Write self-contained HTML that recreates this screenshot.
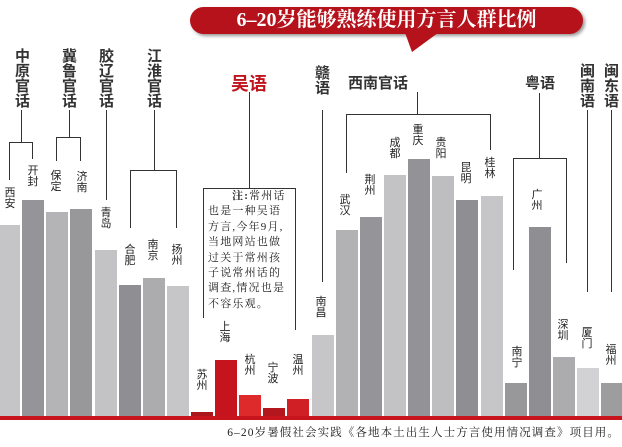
<!DOCTYPE html>
<html><head><meta charset="utf-8"><style>
body{margin:0;width:622px;height:447px;background:#fff;position:relative;overflow:hidden;font-family:"Liberation Sans","Noto Sans CJK SC",sans-serif}
.b{position:absolute;bottom:30px}
.v{position:absolute;width:14px;text-align:center;line-height:1.02;font-size:11px;color:#222;word-break:break-all}
.g{position:absolute;width:17px;text-align:center;line-height:1.0;font-size:15px;font-weight:bold;color:#333;word-break:break-all}
.l{position:absolute;background:#333}
</style></head><body>
<!-- title -->
<div style="position:absolute;left:190px;top:7px;width:393px;height:27px;border-radius:14px;background:#b5121b;box-shadow:2px 2px 3px #999"></div>
<div style="position:absolute;left:404px;top:30px;width:0;height:0;border-left:8px solid transparent;border-right:30px solid transparent;border-top:22px solid #b5121b"></div>
<div style="position:absolute;left:190px;top:7px;width:393px;height:27px;line-height:27px;text-align:center;color:#fff;font-size:20px;font-weight:bold;font-family:'Liberation Serif','Noto Serif CJK SC',serif">6–20岁能够熟练使用方言人群比例</div>

<!-- bars -->
<div class="b" style="left:0;width:20px;height:192px;background:#c5c4c7"></div>
<div class="b" style="left:22px;width:22px;height:217px;background:#959498"></div>
<div class="b" style="left:46px;width:22px;height:205px;background:#b4b3b6"></div>
<div class="b" style="left:70px;width:22px;height:208px;background:#98979a"></div>
<div class="b" style="left:95px;width:22px;height:167px;background:#c3c2c5"></div>
<div class="b" style="left:119px;width:22px;height:132px;background:#8f8e92"></div>
<div class="b" style="left:143px;width:22px;height:139px;background:#acabae"></div>
<div class="b" style="left:167px;width:22px;height:131px;background:#c6c5c8"></div>
<div class="b" style="left:191px;width:22px;height:5px;background:#aa161c"></div>
<div class="b" style="left:215px;width:22px;height:57px;background:#c5141d"></div>
<div class="b" style="left:239px;width:22px;height:22px;background:#df2a2b"></div>
<div class="b" style="left:263px;width:22px;height:9px;background:#b3161c"></div>
<div class="b" style="left:287px;width:22px;height:18px;background:#d01f25"></div>
<div class="b" style="left:312px;width:22px;height:82px;background:#c6c5c8"></div>
<div class="b" style="left:336px;width:22px;height:187px;background:#b2b1b4"></div>
<div class="b" style="left:360px;width:22px;height:200px;background:#959498"></div>
<div class="b" style="left:384px;width:22px;height:242px;background:#c3c2c5"></div>
<div class="b" style="left:408px;width:22px;height:258px;background:#939296"></div>
<div class="b" style="left:432px;width:22px;height:241px;background:#bebdc0"></div>
<div class="b" style="left:456px;width:22px;height:217px;background:#8f8e92"></div>
<div class="b" style="left:481px;width:22px;height:221px;background:#c6c5c8"></div>
<div class="b" style="left:505px;width:22px;height:34px;background:#98979a"></div>
<div class="b" style="left:529px;width:22px;height:190px;background:#8f8e92"></div>
<div class="b" style="left:553px;width:22px;height:60px;background:#acabae"></div>
<div class="b" style="left:577px;width:22px;height:49px;background:#d2d1d3"></div>
<div class="b" style="left:601px;width:21px;height:34px;background:#9d9c9f"></div>
<div style="position:absolute;left:0;top:416px;width:622px;height:4px;background:#c8141d"></div>
<div style="position:absolute;right:2px;top:424px;font-size:11.5px;color:#222;font-family:'Liberation Serif','Noto Serif CJK SC',serif;letter-spacing:1.1px">6–20岁暑假社会实践《各地本土出生人士方言使用情况调查》项目用。</div>

<!-- group labels -->
<div class="g" style="left:14px;top:49px">中原官话</div>
<div class="g" style="left:61px;top:49px">冀鲁官话</div>
<div class="g" style="left:98px;top:49px">胶辽官话</div>
<div class="g" style="left:146px;top:49px">江淮官话</div>
<div style="position:absolute;left:231px;top:70px;font-size:18px;font-weight:bold;color:#c0141d">吴语</div>
<div class="g" style="left:314px;top:66px">赣语</div>
<div style="position:absolute;left:348px;top:72px;font-size:15px;font-weight:bold;color:#333">西南官话</div>
<div style="position:absolute;left:525px;top:72px;font-size:15px;font-weight:bold;color:#333">粤语</div>
<div class="g" style="left:579px;top:64px">闽南语</div>
<div class="g" style="left:603px;top:64px">闽东语</div>

<!-- lines -->
<div class="l" style="left:21px;top:110px;width:1px;height:32px"></div>
<div class="l" style="left:9px;top:142px;width:24px;height:1px"></div>
<div class="l" style="left:9px;top:142px;width:1px;height:38px"></div>
<div class="l" style="left:32px;top:142px;width:1px;height:17px"></div>
<div class="l" style="left:69px;top:110px;width:1px;height:27px"></div>
<div class="l" style="left:56px;top:137px;width:25px;height:1px"></div>
<div class="l" style="left:56px;top:137px;width:1px;height:24px"></div>
<div class="l" style="left:80px;top:137px;width:1px;height:24px"></div>
<div class="l" style="left:106px;top:110px;width:1px;height:90px"></div>
<div class="l" style="left:154px;top:110px;width:1px;height:60px"></div>
<div class="l" style="left:130px;top:170px;width:47px;height:1px"></div>
<div class="l" style="left:130px;top:170px;width:1px;height:58px"></div>
<div class="l" style="left:176px;top:170px;width:1px;height:58px"></div>
<div class="l" style="left:249px;top:92px;width:1px;height:96px"></div>
<div class="l" style="left:203px;top:188px;width:93px;height:1px"></div>
<div class="l" style="left:203px;top:188px;width:1px;height:130px"></div>
<div class="l" style="left:295px;top:188px;width:1px;height:142px"></div>
<div class="l" style="left:322px;top:110px;width:1px;height:172px"></div>
<div class="l" style="left:417px;top:92px;width:1px;height:22px"></div>
<div class="l" style="left:346px;top:114px;width:145px;height:1px"></div>
<div class="l" style="left:346px;top:114px;width:1px;height:59px"></div>
<div class="l" style="left:490px;top:114px;width:1px;height:36px"></div>
<div class="l" style="left:539px;top:93px;width:1px;height:65px"></div>
<div class="l" style="left:513px;top:158px;width:54px;height:1px"></div>
<div class="l" style="left:513px;top:158px;width:1px;height:112px"></div>
<div class="l" style="left:566px;top:158px;width:1px;height:105px"></div>
<div class="l" style="left:587px;top:110px;width:1px;height:182px"></div>
<div class="l" style="left:611px;top:110px;width:1px;height:182px"></div>

<!-- note -->
<div style="position:absolute;left:208px;top:189px;width:90px;font-size:11px;line-height:15.4px;letter-spacing:1.2px;color:#222;white-space:nowrap;font-family:'Liberation Serif','Noto Serif CJK SC',serif"><span style="padding-left:24px;font-weight:bold">注:</span>常州话<br>也是一种吴语<br>方言,今年9月,<br>当地网站也做<br>过关于常州孩<br>子说常州话的<br>调查,情况也是<br>不容乐观。</div>

<!-- city labels -->
<div class="v" style="left:3px;top:188px">西安</div>
<div class="v" style="left:26px;top:166px">开封</div>
<div class="v" style="left:49px;top:171px">保定</div>
<div class="v" style="left:75px;top:172px">济南</div>
<div class="v" style="left:99px;top:208px">青岛</div>
<div class="v" style="left:123px;top:245px">合肥</div>
<div class="v" style="left:146px;top:240px">南京</div>
<div class="v" style="left:170px;top:245px">扬州</div>
<div class="v" style="left:195px;top:370px">苏州</div>
<div class="v" style="left:218px;top:322px">上海</div>
<div class="v" style="left:243px;top:355px">杭州</div>
<div class="v" style="left:266px;top:363px">宁波</div>
<div class="v" style="left:291px;top:355px">温州</div>
<div class="v" style="left:314px;top:297px">南昌</div>
<div class="v" style="left:338px;top:195px">武汉</div>
<div class="v" style="left:363px;top:175px">荆州</div>
<div class="v" style="left:388px;top:138px">成都</div>
<div class="v" style="left:411px;top:125px">重庆</div>
<div class="v" style="left:434px;top:138px">贵阳</div>
<div class="v" style="left:459px;top:163px">昆明</div>
<div class="v" style="left:483px;top:158px">桂林</div>
<div class="v" style="left:510px;top:347px">南宁</div>
<div class="v" style="left:530px;top:190px">广州</div>
<div class="v" style="left:556px;top:320px">深圳</div>
<div class="v" style="left:580px;top:328px">厦门</div>
<div class="v" style="left:604px;top:345px">福州</div>
</body></html>
